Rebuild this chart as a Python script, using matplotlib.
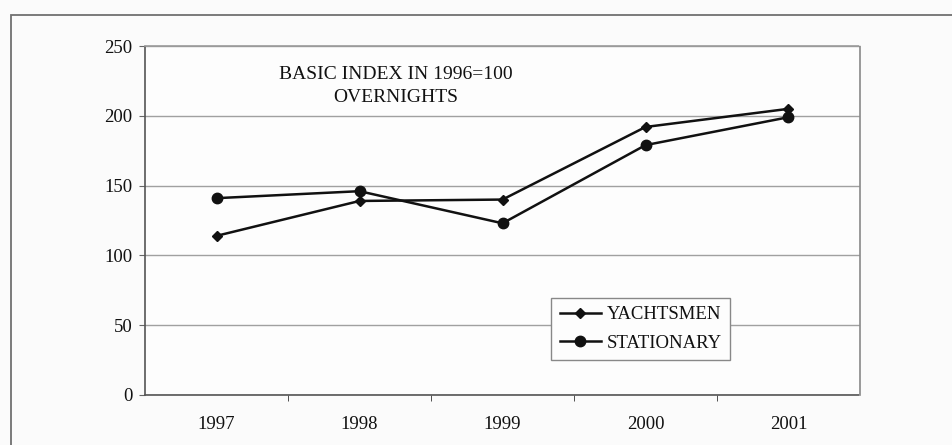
import matplotlib
matplotlib.use("Agg")
import matplotlib.pyplot as plt
from matplotlib.patches import Rectangle
import numpy as np

years = ["1997", "1998", "1999", "2000", "2001"]
yachtsmen = [114, 139, 140, 192, 205]
stationary = [141, 146, 123, 179, 199]
y_ticks = [0, 50, 100, 150, 200, 250]
title_lines = ["BASIC INDEX IN 1996=100", "OVERNIGHTS"]

plt.rcParams["font.family"] = ["Liberation Serif", "DejaVu Serif"]

fig = plt.figure(figsize=(9.53, 4.45), dpi=100, facecolor="#fbfbfb")
ax = fig.add_axes([0.1522, 0.1124, 0.7502, 0.7842])
ax.set_facecolor("#fdfdfd")

# outer page frame
fig.patches.append(Rectangle((11 / 953, -0.05), 1.1, 1 - 15 / 445 + 0.05,
                             transform=fig.transFigure, fill=False,
                             edgecolor="#707070", linewidth=1.3, zorder=0))

x = np.arange(len(years)) + 0.5
ax.plot(x, yachtsmen, color="#111111", linewidth=1.8, marker="D",
        markersize=5, label="YACHTSMEN", zorder=3)
ax.plot(x, stationary, color="#111111", linewidth=1.8, marker="o",
        markersize=7.5, label="STATIONARY", zorder=3)

ax.set_xlim(0, len(years))
ax.set_ylim(0, 250)
ax.set_yticks(y_ticks)
ax.set_yticklabels([str(v) for v in y_ticks], fontsize=13.5, color="#111111")
ax.set_xticks(x)
ax.set_xticklabels(years, fontsize=13.5, color="#111111")
ax.set_xticks(np.arange(1, len(years)), minor=True)
ax.tick_params(axis="x", which="major", length=0, pad=15)
ax.tick_params(axis="x", which="minor", length=4, direction="out", color="#333333")
ax.tick_params(axis="y", length=4, direction="out", pad=5, color="#666666")

ax.yaxis.grid(True, color="#a0a0a0", linewidth=1.0)
ax.set_axisbelow(True)
for side, col in [("left", "#555555"), ("bottom", "#555555"),
                  ("right", "#888888"), ("top", "#999999")]:
    ax.spines[side].set_color(col)
    ax.spines[side].set_linestyle((0, (2, 1)))
    ax.spines[side].set_linewidth(1.2)

ax.text(0.351, 0.886, "\n".join(title_lines), transform=ax.transAxes,
        ha="center", va="center", fontsize=14, color="#111111", linespacing=1.45)

leg = ax.legend(loc="lower left", bbox_to_anchor=(0.568, 0.100), borderaxespad=0,
                fontsize=13.5, frameon=True, fancybox=False, handlelength=2.2,
                handletextpad=0.3, borderpad=0.45, labelspacing=0.6)
leg.get_frame().set_edgecolor("#888888")
leg.get_frame().set_linewidth(1.0)
leg.get_frame().set_facecolor("#fdfdfd")
leg.get_frame().set_alpha(1)
for t in leg.get_texts():
    t.set_color("#111111")

fig.savefig("out.png", dpi=100, facecolor=fig.get_facecolor())
